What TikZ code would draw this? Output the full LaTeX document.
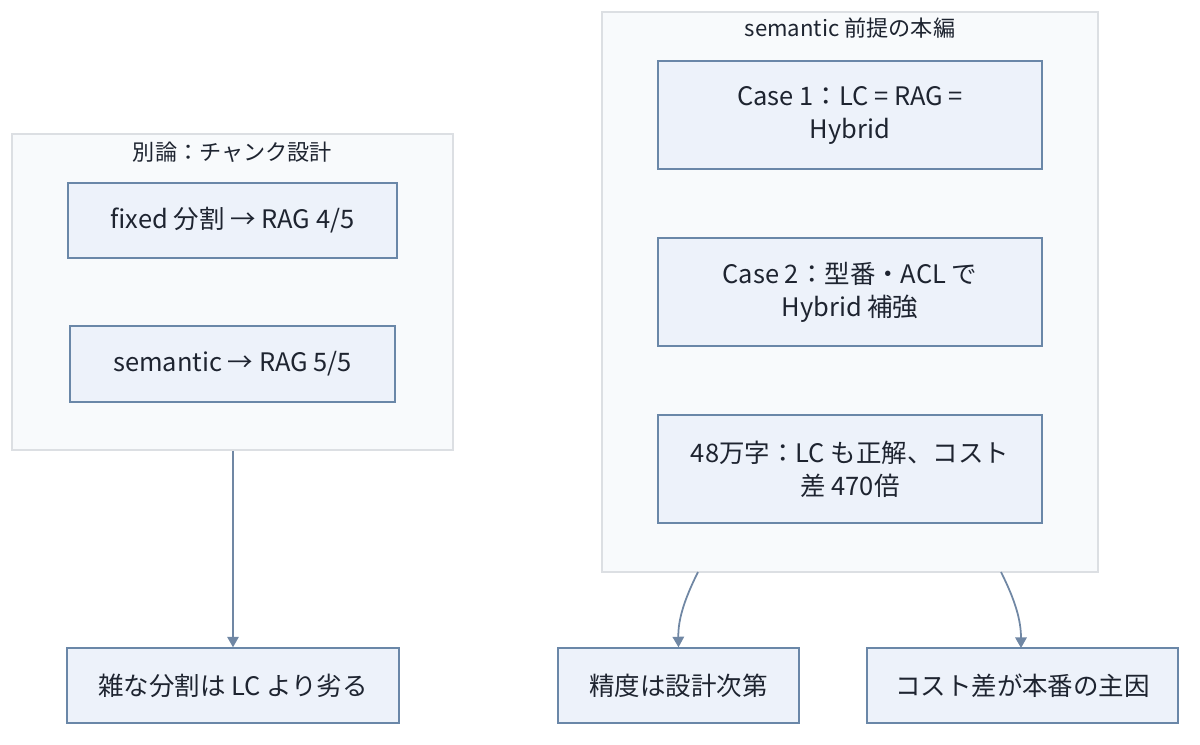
\documentclass[tikz,border=0pt]{standalone}
\usepackage{fontspec}
\setmainfont{Noto Sans CJK JP}
\usetikzlibrary{arrows.meta}
\definecolor{clfill}{HTML}{F8FAFC}
\definecolor{cldraw}{HTML}{DCDFE3}
\definecolor{bxfill}{HTML}{EDF2FA}
\definecolor{bxdraw}{HTML}{6A87A8}
\definecolor{arr}{HTML}{7087A4}
\definecolor{txt}{HTML}{1E2430}
\tikzset{
  cluster/.style={draw=cldraw, fill=clfill, line width=0.8pt, inner sep=0pt},
  box/.style={draw=bxdraw, fill=bxfill, line width=0.8pt, text=txt, align=center,
    font=\fontsize{14.5pt}{18.8pt}\selectfont, inner sep=0pt},
  ttl/.style={text=txt, font=\fontsize{12.6pt}{15pt}\selectfont},
  conn/.style={draw=arr, line width=1pt, -{Triangle[width=6.5pt,length=6pt]}}
}
\begin{document}
\begin{tikzpicture}[x=0.02cm,y=-0.02cm]
\useasboundingbox (0,0) rectangle (1200,744);
% clusters
\node[cluster, minimum width=8.82cm, minimum height=6.32cm] (L) at (232.5,292) {};
\node[ttl] (Lt) at (232.5,152) {別論：チャンク設計};
\node[cluster, minimum width=9.92cm, minimum height=11.2cm] (R) at (850,292) {};
\node[ttl] (Rt) at (850,28) {semantic 前提の本編};
% boxes
\node[box, minimum width=6.58cm, minimum height=1.5cm] (fx) at (232.5,220.5) {fixed 分割 → RAG 4/5};
\node[box, minimum width=6.5cm, minimum height=1.52cm] (sm) at (232.5,364) {semantic → RAG 5/5};
\node[box, minimum width=7.68cm, minimum height=2.16cm] (c1) at (850,115) {Case 1：LC = RAG =\\Hybrid};
\node[box, minimum width=7.68cm, minimum height=2.16cm] (c2) at (850,292) {Case 2：型番・ACL で\\Hybrid 補強};
\node[box, minimum width=7.68cm, minimum height=2.16cm] (c3) at (850,469) {48万字：LC も正解、コスト\\差 470倍};
\node[box, minimum width=6.64cm, minimum height=1.5cm] (b1) at (233,685.5) {雑な分割は LC より劣る};
\node[box, minimum width=4.82cm, minimum height=1.5cm] (b2) at (678.5,685.5) {精度は設計次第};
\node[box, minimum width=6.22cm, minimum height=1.5cm] (b3) at (1022.5,685.5) {コスト差が本番の主因};
% connectors
\coordinate (r1) at (698,572);
\coordinate (r2) at (1001,572);
\draw[conn] (L.south -| b1.north) -- (b1.north);
\draw[conn] (r1) .. controls (684,600) and (678,620) .. (b2.north);
\draw[conn] (r2) .. controls (1015,600) and (1021,620) .. (1021,648);
\end{tikzpicture}
\end{document}
